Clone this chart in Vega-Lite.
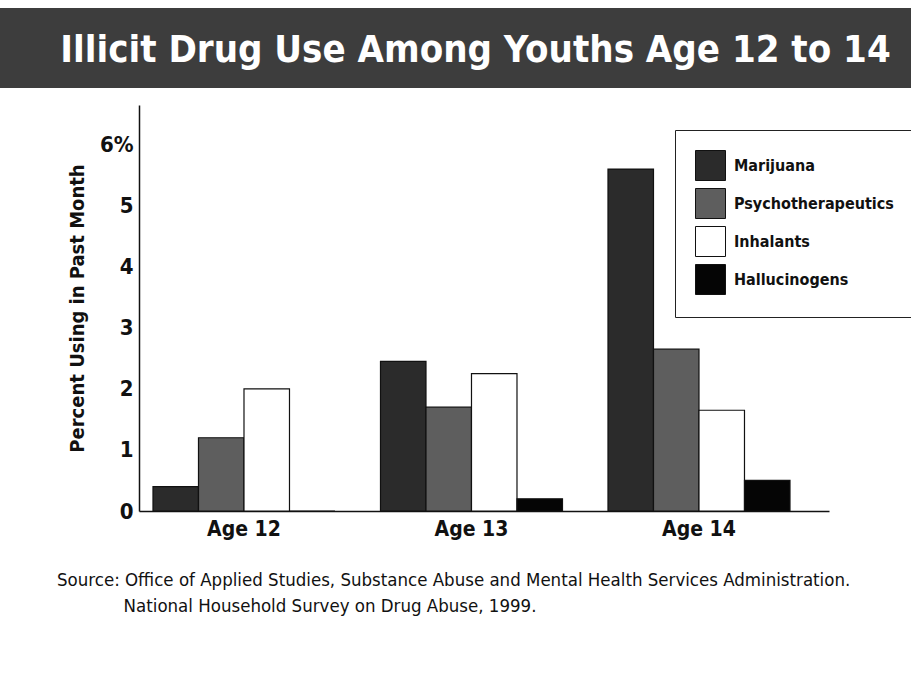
{
  "$schema": "https://vega.github.io/schema/vega-lite/v6.json",
  "padding": {"left": 0, "top": 8, "right": 0, "bottom": 0},
  "background": "white",
  "spacing": 17,
  "config": {
    "font": "DejaVu Sans Condensed, Liberation Sans Narrow, sans-serif",
    "view": {"stroke": null}
  },
  "vconcat": [
    {
      "width": 911,
      "height": 80,
      "view": {"fill": "#3d3d3d", "stroke": null},
      "data": {"values": [{"t": "Illicit Drug Use Among Youths Age 12 to 14"}]},
      "mark": {"type": "text", "color": "white", "fontSize": 38, "fontWeight": "bold", "dx": 20, "dy": 3},
      "encoding": {"text": {"field": "t"}}
    },
    {
      "width": 829,
      "height": 406,
      "title": {
        "text": ["Source: Office of Applied Studies, Substance Abuse and Mental Health Services Administration.", "\u200b\u2003\u2003\u2003\u2003National Household Survey on Drug Abuse, 1999."],
        "orient": "bottom",
        "anchor": "start",
        "frame": "bounds",
        "dx": 57,
        "offset": 32,
        "fontSize": 18.5,
        "fontWeight": "normal",
        "lineHeight": 26,
        "color": "#111"
      },
      "data": {"values": [
        {"age": "Age 12", "drug": "Marijuana", "pct": 0.4},
        {"age": "Age 12", "drug": "Psychotherapeutics", "pct": 1.2},
        {"age": "Age 12", "drug": "Inhalants", "pct": 2.0},
        {"age": "Age 12", "drug": "Hallucinogens", "pct": 0.0},
        {"age": "Age 13", "drug": "Marijuana", "pct": 2.45},
        {"age": "Age 13", "drug": "Psychotherapeutics", "pct": 1.7},
        {"age": "Age 13", "drug": "Inhalants", "pct": 2.25},
        {"age": "Age 13", "drug": "Hallucinogens", "pct": 0.2},
        {"age": "Age 14", "drug": "Marijuana", "pct": 5.6},
        {"age": "Age 14", "drug": "Psychotherapeutics", "pct": 2.65},
        {"age": "Age 14", "drug": "Inhalants", "pct": 1.65},
        {"age": "Age 14", "drug": "Hallucinogens", "pct": 0.5}
      ]},
      "mark": {"type": "bar", "stroke": "#111", "strokeWidth": 1.2},
      "encoding": {
        "x": {
          "field": "age", "type": "nominal",
          "scale": {"range": [139, 829], "paddingInner": 0.2, "paddingOuter": 0.1165, "align": 0.264},
          "axis": {"title": null, "labelAngle": 0, "ticks": false, "domainColor": "#111", "domainWidth": 1.5, "labelFontSize": 21, "labelFontWeight": "bold", "labelColor": "#111", "labelPadding": 7}
        },
        "xOffset": {
          "field": "drug", "type": "nominal",
          "sort": ["Marijuana", "Psychotherapeutics", "Inhalants", "Hallucinogens"],
          "scale": {"paddingInner": 0, "paddingOuter": 0}
        },
        "y": {
          "field": "pct", "type": "quantitative",
          "scale": {"domain": [0, 6.65], "nice": false},
          "axis": {
            "title": "Percent Using in Past Month",
            "offset": -139,
            "values": [0, 1, 2, 3, 4, 5, 6],
            "labelExpr": "datum.value == 6 ? '6%' : datum.label",
            "grid": false, "ticks": false,
            "domainColor": "#111", "domainWidth": 1.5,
            "labelFontSize": 22, "labelFontWeight": "bold", "labelColor": "#111", "labelPadding": 6,
            "titleFontSize": 20, "titleFontWeight": "bold", "titleColor": "#111", "titlePadding": 12
          }
        },
        "fill": {
          "field": "drug", "type": "nominal",
          "scale": {
            "domain": ["Marijuana", "Psychotherapeutics", "Inhalants", "Hallucinogens"],
            "range": ["#2b2b2b", "#5e5e5e", "#ffffff", "#050505"]
          },
          "legend": {
            "title": null,
            "orient": "none",
            "legendX": 675,
            "legendY": 122,
            "padding": 20,
            "strokeColor": "#222",
            "symbolType": "square",
            "symbolSize": 900,
            "symbolStrokeColor": "#111",
            "symbolStrokeWidth": 1,
            "labelFontSize": 16,
            "labelFontWeight": "bold",
            "labelColor": "#111",
            "labelOffset": 8,
            "labelLimit": 300,
            "rowPadding": 3
          }
        }
      }
    }
  ]
}
